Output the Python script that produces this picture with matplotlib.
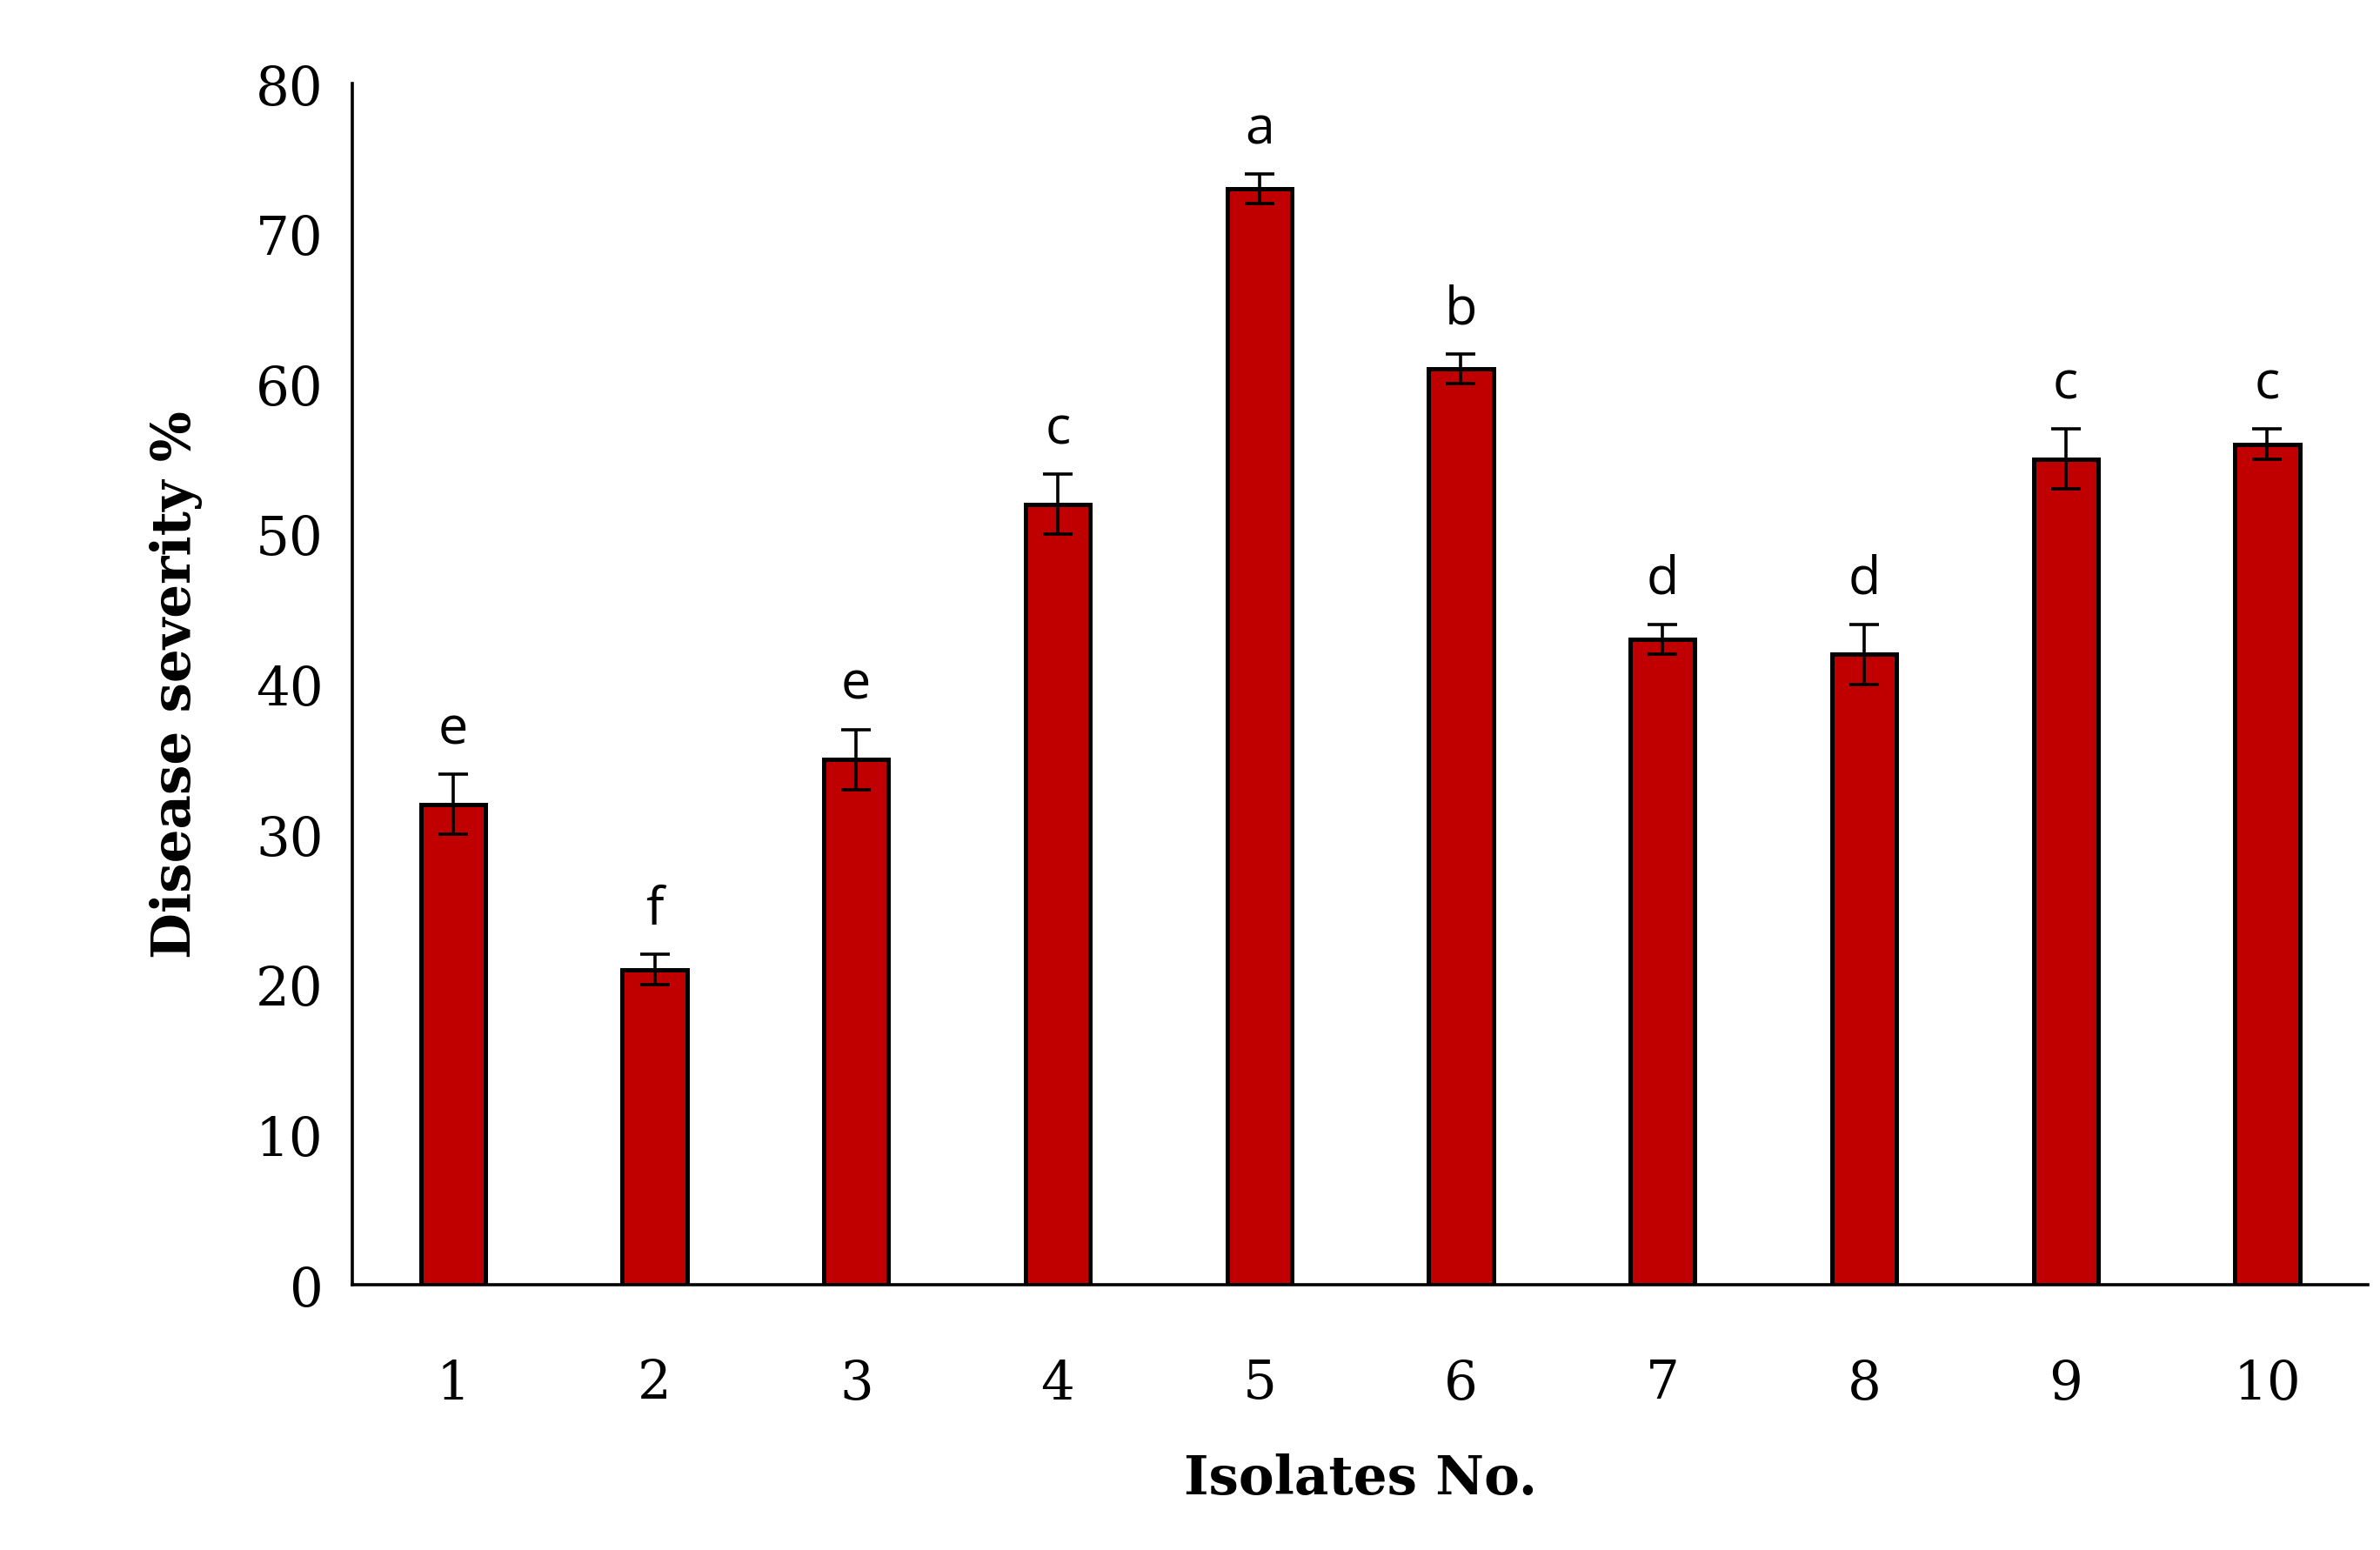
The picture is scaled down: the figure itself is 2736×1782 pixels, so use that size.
import numpy as np
import matplotlib.pyplot as plt

isolates = ['1', '2', '3', '4', '5', '6', '7', '8', '9', '10']
severity = [32, 21, 35, 52, 73, 61, 43, 42, 55, 56]
errors = [2, 1, 2, 2, 1, 1, 1, 2, 2, 1]
letters = ['e', 'f', 'e', 'c', 'a', 'b', 'd', 'd', 'c', 'c']

fig = plt.figure(figsize=(13.68, 8.91), dpi=200)
ax = fig.add_axes([0.148, 0.171, 0.847, 0.775])

x = np.arange(1, len(isolates) + 1)
ax.bar(x, severity, width=0.32, color='#C00000', edgecolor='black', linewidth=1.8,
       yerr=errors, error_kw=dict(ecolor='black', elinewidth=1.3, capsize=6, capthick=1.3))
for xi, v, e, lab in zip(x, severity, errors, letters):
    ax.text(xi, v + e + 1.2, lab, ha='center', va='bottom', fontsize=22, family='Open Sans')

ax.set_xlim(0.5, 10.5)
ax.set_ylim(0, 80)
ax.set_yticks(range(0, 81, 10))
ax.set_xticks(x)
ax.set_xticklabels(isolates)
ax.tick_params(length=0, labelsize=22, pad=30)
ax.tick_params(axis='y', pad=12)
for t in ax.get_xticklabels() + ax.get_yticklabels():
    t.set_family('DejaVu Serif')
for s in ['top', 'right']:
    ax.spines[s].set_visible(False)
ax.spines['left'].set_linewidth(1.3)
ax.spines['bottom'].set_linewidth(1.3)
ax.set_xlabel('Isolates No.', fontsize=22, fontweight='bold', family='DejaVu Serif', labelpad=18)
ax.set_ylabel('Disease severity %', fontsize=22, fontweight='bold', family='DejaVu Serif', labelpad=22)

fig.savefig('out.png', dpi=200)
